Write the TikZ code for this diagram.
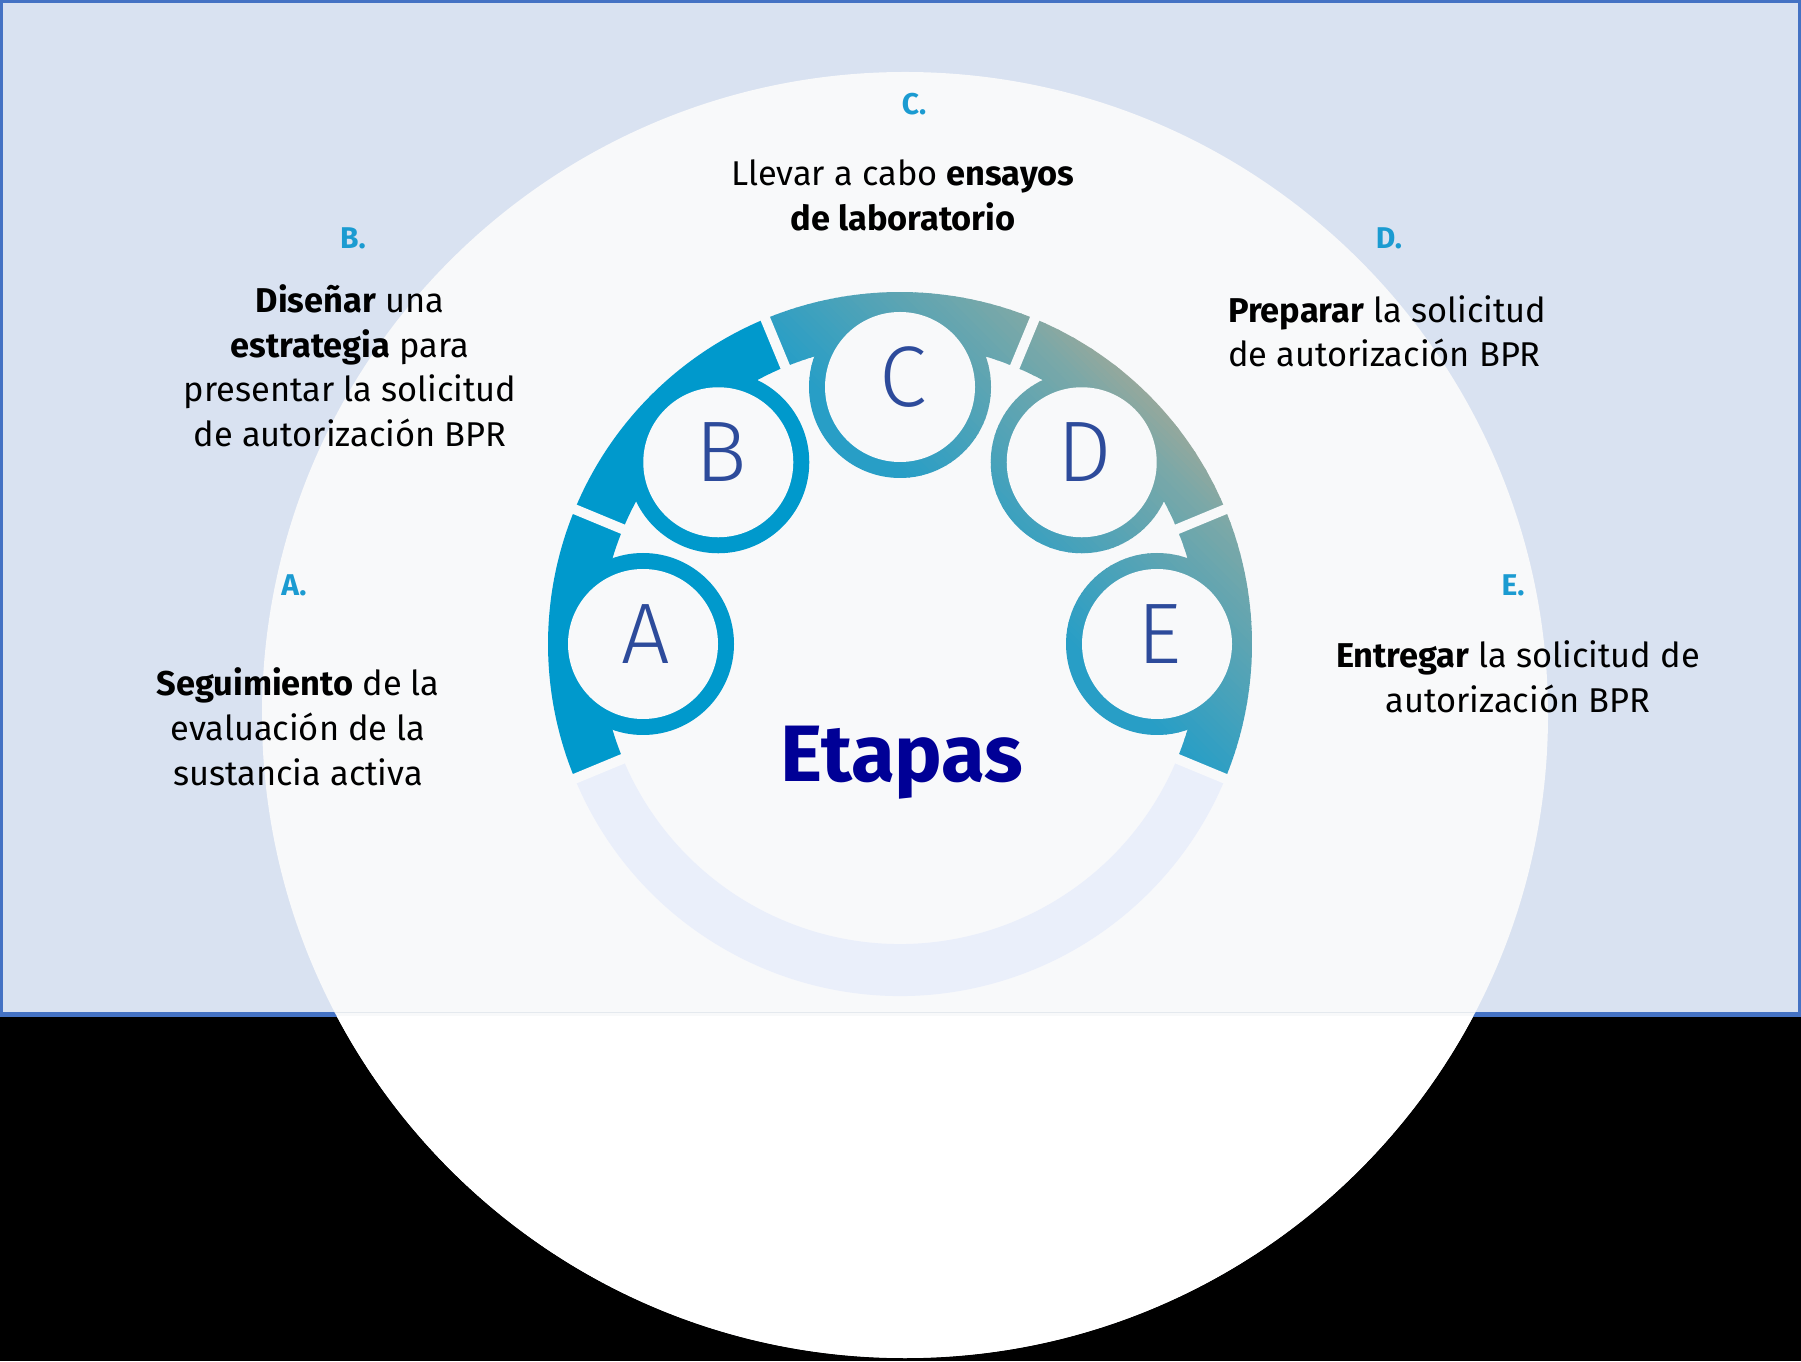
\documentclass[tikz,border=0pt]{standalone}
\usepackage{fontspec}
\setmainfont{Fira Sans}
\newfontfamily\lightfont{Fira Sans Light}
\usetikzlibrary{calc}
\definecolor{bandbg}{RGB}{217,226,241}
\definecolor{bordblue}{RGB}{68,114,196}
\definecolor{circbg}{RGB}{248,249,250}
\definecolor{seamgray}{RGB}{228,233,238}
\definecolor{lav}{RGB}{234,239,250}
\definecolor{solidblue}{RGB}{0,153,204}
\definecolor{gA}{RGB}{40,158,198}
\definecolor{gB}{RGB}{122,168,168}
\definecolor{gC}{RGB}{160,168,152}
\definecolor{lblblue}{RGB}{27,155,209}
\definecolor{letblue}{RGB}{45,75,155}
\definecolor{navy}{RGB}{0,0,150}
\newcommand{\bandsector}[2]{($(RC)+(#1:352)$) arc[start angle=#1,end angle=#2,radius=352] -- ($(RC)+(#2:300)$) arc[start angle=#2,end angle=#1,radius=300] -- cycle}
\newcommand{\gradstrips}{%
  \begin{scope}[shift={(680.5,680.5)},rotate=45]
    \fill[gA] (-1500,-1500) rectangle (301,1500);
    \foreach \p in {300,305,...,485}{%
      \pgfmathtruncatemacro{\pc}{(\p-300)/190*100}%
      \colorlet{stripc}{gB!\pc!gA}%
      \fill[stripc] (\p,-1500) rectangle (\p+5.8,1500);
    }
    \foreach \p in {490,495,...,540}{%
      \pgfmathtruncatemacro{\pc}{(\p-490)/55*100}%
      \colorlet{stripc}{gC!\pc!gB}%
      \fill[stripc] (\p,-1500) rectangle (\p+5.8,1500);
    }
    \fill[gC] (545,-1500) rectangle (1500,1500);
  \end{scope}}
\tikzset{
  lbl/.style={font=\fontsize{30}{36}\selectfont\bfseries, text=lblblue, inner sep=0pt, anchor=base},
  body/.style={font=\fontsize{34.4}{45}\selectfont, text=black, inner sep=0pt, anchor=base},
  letter/.style={font=\lightfont\fontsize{86}{90}\selectfont, text=letblue, inner sep=0pt, anchor=center},
  gapline/.style={circbg, line width=10pt}
}
\begin{document}
\begin{tikzpicture}[x=1pt,y=1pt]
\useasboundingbox (0,0) rectangle (1801,1361);
\coordinate (RC) at (900,717);
\coordinate (BC) at (905,646);
% backgrounds
\fill[black] (0,0) rectangle (1801,347);
\fill[bandbg] (0,347) rectangle (1801,1361);
\draw[bordblue, line width=3pt] (1.5,347) -- (1.5,1359.5) -- (1799.5,1359.5) -- (1799.5,347);
\draw[bordblue, line width=5pt] (0,346.5) -- (1801,346.5);
% big circle
\fill[circbg] (BC) circle (643);
\begin{scope}
  \clip (0,0) rectangle (1801,345);
  \fill[white] (BC) circle (643);
\end{scope}
\begin{scope}
  \clip (BC) circle (643);
  \draw[seamgray, line width=1.5pt] (0,348.5) -- (1801,348.5);
\end{scope}
% ring
\fill[lav] \bandsector{202.5}{337.5};
\fill[solidblue] \bandsector{157.5}{202.5};
\fill[solidblue] \bandsector{112.5}{157.5};
\begin{scope}\clip \bandsector{67.5}{112.5}; \gradstrips \end{scope}
\begin{scope}\clip \bandsector{22.5}{67.5}; \gradstrips \end{scope}
\begin{scope}\clip \bandsector{-22.5}{22.5}; \gradstrips \end{scope}
\foreach \a in {-22.5,22.5,67.5,112.5,157.5,202.5}{
  \draw[gapline] ($(RC)+(\a:294)$) -- ($(RC)+(\a:358)$);
}
% small circles
\coordinate (cA) at ($(RC)+(180:257)$);
\coordinate (cB) at ($(RC)+(135:257)$);
\coordinate (cC) at ($(RC)+(90:257)$);
\coordinate (cD) at ($(RC)+(45:257)$);
\coordinate (cE) at ($(RC)+(0:257)$);
\fill[solidblue] (cA) circle (91);
\fill[solidblue] (cB) circle (91);
\begin{scope}\clip (cC) circle (91); \gradstrips \end{scope}
\begin{scope}\clip (cD) circle (91); \gradstrips \end{scope}
\begin{scope}\clip (cE) circle (91); \gradstrips \end{scope}
\foreach \c in {cA,cB,cC,cD,cE}{ \fill[circbg] (\c) circle (75); }
\node[letter] (lA) at ($(cA)+(3,10)$) {A};
\node[letter] (lB) at ($(cB)+(3,10)$) {B};
\node[letter] (lC) at ($(cC)+(3,10)$) {C};
\node[letter] (lD) at ($(cD)+(3,10)$) {D};
\node[letter] (lE) at ($(cE)+(3,10)$) {E};
% title
\node[font=\fontsize{80}{82}\selectfont\bfseries, text=navy, inner sep=0pt, anchor=base] (etapas) at (902,579) {Etapas};
% labels
\node[lbl] (LC) at (914,1246) {C.};
\node[lbl] (LB) at (353,1112) {B.};
\node[lbl] (LD) at (1389,1112) {D.};
\node[lbl] (LA) at (294,765) {A.};
\node[lbl] (LE) at (1513,765) {E.};
% texts
\node[body] (c1) at (903,1175) {Llevar a cabo \textbf{ensayos}};
\node[body] (c2) at (903,1130) {\textbf{de laboratorio}};
\node[body] (b1) at (350,1048) {\textbf{Diseñar} una};
\node[body] (b2) at (350,1003) {\textbf{estrategia} para};
\node[body] (b3) at (350,959) {presentar la solicitud};
\node[body] (b4) at (350,914) {de autorización BPR};
\node[body] (a1) at (298,665) {\textbf{Seguimiento} de la};
\node[body] (a2) at (298,620) {evaluación de la};
\node[body] (a3) at (298,575) {sustancia activa};
\node[body, anchor=base west] (d1) at (1228,1038) {\textbf{Preparar} la solicitud};
\node[body, anchor=base west] (d2) at (1228,994) {de autorización BPR};
\node[body] (e1) at (1518,693) {\textbf{Entregar} la solicitud de};
\node[body] (e2) at (1518,648) {autorización BPR};
\end{tikzpicture}
\end{document}
